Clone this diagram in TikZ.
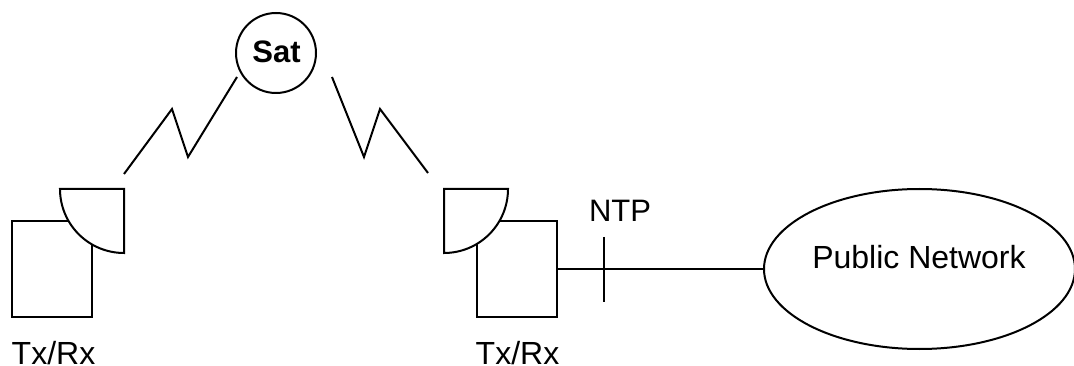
\documentclass[tikz,border=0pt]{standalone}
\usepackage{fontspec}
\setmainfont{Liberation Sans}
\usetikzlibrary{shapes.geometric}
\tikzset{
  x=1pt,y=-1pt,
  ink/.style={line width=2pt,black},
  boxnode/.style={ink,draw,fill=white,rectangle,minimum width=80pt,minimum height=96pt,inner sep=0pt,outer sep=0pt},
  dishshape/.style={ink,draw,fill=white,line join=miter},
  label/.style={inner sep=0pt,outer sep=0pt,anchor=base,font=\fontsize{32}{32}\selectfont},
}
\begin{document}
\begin{tikzpicture}
\useasboundingbox (0,0) rectangle (1074,366);
% Equipment
\node[boxnode] (txL) at (52,269) {};
\node[boxnode] (txR) at (516.5,269) {};
\draw[dishshape] (60,189) -- (124,189) -- (124,253) arc[start angle=90,end angle=180,x radius=64pt,y radius=-64pt] -- cycle;
\draw[dishshape] (508,189) -- (444,189) -- (444,253) arc[start angle=90,end angle=0,x radius=64pt,y radius=-64pt] -- cycle;
\node[ink,draw,circle,minimum size=80pt,inner sep=0pt,outer sep=0pt] (sat) at (276,53) {};
\node[ink,draw,ellipse,minimum width=311pt,minimum height=160pt,inner sep=0pt,outer sep=0pt] (net) at (919.5,269) {};
% Labels
\node[label,font=\fontsize{31}{31}\selectfont\bfseries] (satl) at (276.5,62.5) {Sat};
\node[label] (netl) at (919,269) {Public Network};
\node[label,font=\fontsize{31}{31}\selectfont] (ntp) at (620,222) {NTP};
\node[label] (tl) at (53.5,364) {Tx/Rx};
\node[label] (tr) at (517.5,364) {Tx/Rx};
% Radio links
\coordinate (la) at (124,174);
\coordinate (lb) at (172,109);
\coordinate (lc) at (188,157);
\coordinate (ld) at (237,77);
\coordinate (ra) at (332,77);
\coordinate (rb) at (364,157);
\coordinate (rc) at (380,109);
\coordinate (rd) at (428,173);
\draw[ink] (la) -- (lb) -- (lc) -- (ld);
\draw[ink] (ra) -- (rb) -- (rc) -- (rd);
% Line to network, with NTP tick
\draw[ink] (txR.east) -- (net.west);
\coordinate (tka) at (604,237);
\coordinate (tkb) at (604,302);
\draw[ink] (tka) -- (tkb);
\end{tikzpicture}
\end{document}
